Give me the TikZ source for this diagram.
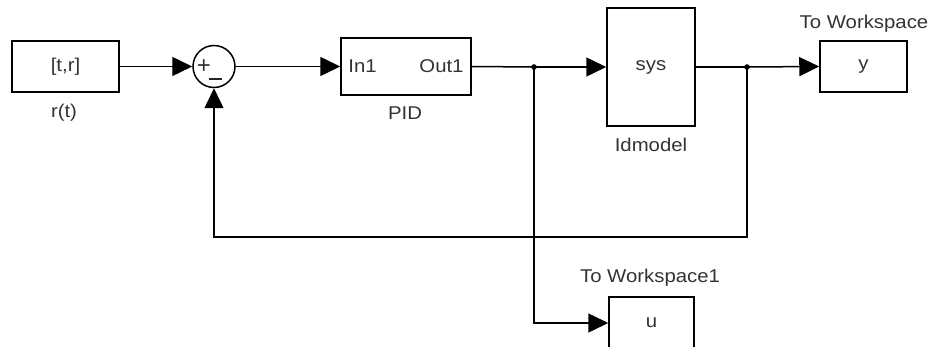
\documentclass[tikz,border=0pt]{standalone}
\usepackage{fontspec}
\setmainfont{Liberation Sans}
\usepackage{graphicx}
\usetikzlibrary{arrows.meta}
\newcommand{\wtx}[1]{\scalebox{1.1}[1]{#1}}
\begin{document}
\begin{tikzpicture}[x=1pt,y=-1pt,
  every node/.style={font=\fontsize{18.5}{22}\selectfont, text=black!80},
  blk/.style={draw=black, line width=1.5pt, inner sep=0pt},
  wire/.style={line width=1.5pt},
  sig/.style={line width=1.5pt, -{Triangle[length=20pt,width=19pt]}}]
\useasboundingbox (0,0) rectangle (936,347);
\clip (0,0) rectangle (936,347);
% blocks
\node[blk, minimum width=107pt, minimum height=51pt] (src) at (65.5,66.5) {\wtx{[t,r]}};
\node[blk, circle, minimum size=42pt] (sum) at (214,66.5) {};
\node[blk, minimum width=130pt, minimum height=57pt] (pid) at (406,66.5) {};
\node[blk, minimum width=88pt, minimum height=118pt] (sys) at (651,67) {\wtx{sys}};
\node[blk, minimum width=87pt, minimum height=51pt] (ybox) at (863.5,66.5) {\wtx{y}};
\node[blk, minimum width=85pt, minimum height=52pt] (ubox) at (651.5,323) {\wtx{u}};
% port and sign labels
\node[anchor=west, inner sep=0pt] (in1) at ([xshift=8pt]pid.west) {\wtx{In1}};
\node[anchor=east, inner sep=0pt] (out1) at ([xshift=-8pt]pid.east) {\wtx{Out1}};
\node[inner sep=0pt, font=\fontsize{24}{26}\selectfont] (plus) at (204,67) {+};
\draw[line width=1.4pt, black!85] (209,79) -- (222,79);
% block labels
\node (lsrc) at (64,113) {\wtx{r(t)}};
\node (lpid) at (405,113) {\wtx{PID}};
\node (lsys) at (651,145) {\wtx{Idmodel}};
\node (lyb) at (864,24) {\wtx{To Workspace}};
\node (lub) at (650,278) {\wtx{To Workspace1}};
% branch points
\coordinate (b1) at (534,67);
\coordinate (b2) at (747,67);
% connectors
\draw[sig] (src.east) -- (sum.west);
\draw[sig] (sum.east) -- (pid.west);
\draw[wire] (pid.east) -- (b1);
\draw[sig] (b1) -- (sys.west);
\draw[wire] (sys.east) -- (b2);
\draw[sig] (b2) -- (ybox.west);
\draw[sig] (b2) -- ++(0,170) -| (sum.south);
\draw[sig] (b1) |- (ubox.west);
\fill (b1) circle (2.8pt);
\fill (b2) circle (2.8pt);
\end{tikzpicture}
\end{document}
